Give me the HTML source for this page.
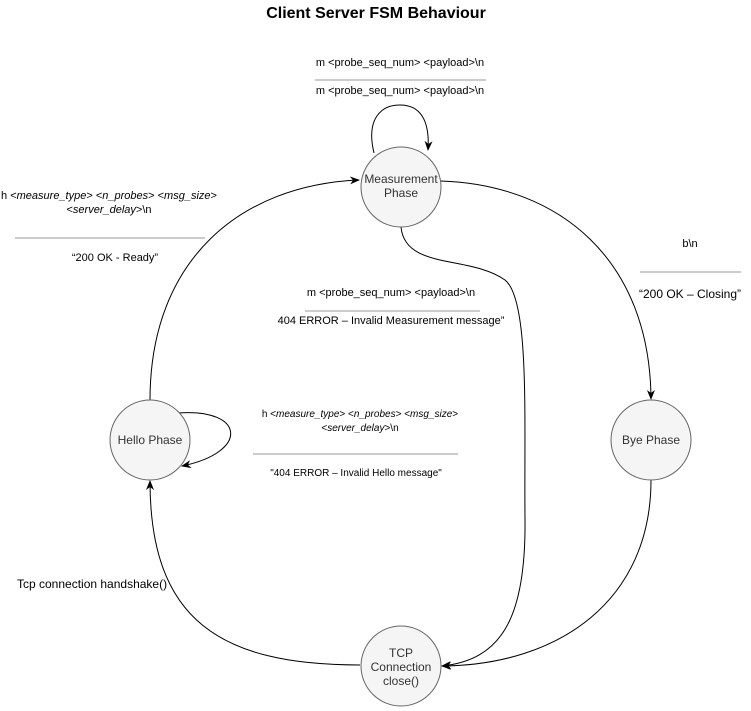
<!DOCTYPE html>
<html><head><meta charset="utf-8"><style>
html,body{margin:0;padding:0;background:#fff;}
svg{display:block;font-family:"Liberation Sans",Arial,sans-serif;}
</style></head><body>
<svg width="751" height="711" viewBox="0 0 751 711" xmlns="http://www.w3.org/2000/svg">
<defs>
<marker id="a" markerWidth="10" markerHeight="10" refX="9" refY="5" orient="auto" markerUnits="userSpaceOnUse">
<path d="M0,1 L10,5 L0,9 L3,5 Z" fill="#000"/>
</marker>
</defs>
<text x="376" y="18" font-size="16" font-weight="bold" text-anchor="middle">Client Server FSM Behaviour</text>

<g fill="none" stroke="#000" stroke-width="1">
<path d="M374,153 C366,120 380,105 400,105 C420,105 430,120 428,150" marker-end="url(#a)"/>
<path d="M150,400 C150,260 240,185 359,180" marker-end="url(#a)"/>
<path d="M441,181 C560,185 650,260 651,399" marker-end="url(#a)"/>
<path d="M401,227 C405,270 470,255 505,280 C530,300 524,420 525,520 C526,620 500,660 442,666" marker-end="url(#a)"/>
<path d="M651,480 C651,600 560,665 442,666" marker-end="url(#a)"/>
<path d="M360,665 C220,665 150,620 150,481" marker-end="url(#a)"/>
<path d="M178,413 C245,408 250,452 182,466" marker-end="url(#a)"/>
</g>

<g fill="#f5f5f5" stroke="#666" stroke-width="1">
<circle cx="401" cy="187" r="40"/>
<circle cx="150" cy="440" r="40"/>
<circle cx="651" cy="440" r="40"/>
<circle cx="401" cy="666" r="40"/>
</g>

<g font-size="12" fill="#333" text-anchor="middle">
<text x="401" y="183">Measurement</text>
<text x="401" y="197">Phase</text>
<text x="150" y="444">Hello Phase</text>
<text x="651" y="444">Bye Phase</text>
<text x="401" y="657">TCP</text>
<text x="401" y="671">Connection</text>
<text x="401" y="685">close()</text>
</g>

<g stroke="#999" stroke-width="1">
<line x1="315" y1="80" x2="486" y2="80"/>
<line x1="15" y1="238" x2="205" y2="238"/>
<line x1="640" y1="272" x2="741" y2="272"/>
<line x1="305" y1="311" x2="480" y2="311"/>
<line x1="253" y1="454" x2="458" y2="454"/>
</g>

<g font-size="11" fill="#000" text-anchor="middle">
<text x="400" y="66">m &lt;probe_seq_num&gt; &lt;payload&gt;\n</text>
<text x="400" y="94">m &lt;probe_seq_num&gt; &lt;payload&gt;\n</text>
<text x="109" y="199">h &lt;<tspan font-style="italic">measure_type</tspan>&gt; &lt;<tspan font-style="italic">n_probes</tspan>&gt; &lt;<tspan font-style="italic">msg_size</tspan>&gt;</text>
<text x="109" y="213">&lt;<tspan font-style="italic">server_delay</tspan>&gt;\n</text>
<text x="115" y="261">“200 OK - Ready”</text>
<text x="690" y="247">b\n</text>
<text x="690" y="298" font-size="12">“200 OK – Closing”</text>
<text x="391" y="296">m &lt;probe_seq_num&gt; &lt;payload&gt;\n</text>
<text x="391" y="324">404 ERROR – Invalid Measurement message”</text>
<text x="360" y="417" font-size="10">h &lt;<tspan font-style="italic">measure_type</tspan>&gt; &lt;<tspan font-style="italic">n_probes</tspan>&gt; &lt;<tspan font-style="italic">msg_size</tspan>&gt;</text>
<text x="360" y="431" font-size="10">&lt;<tspan font-style="italic">server_delay</tspan>&gt;\n</text>
<text x="356" y="476" font-size="10">"404 ERROR – Invalid Hello message"</text>
</g>
<text x="17" y="588" font-size="12" fill="#000">Tcp connection handshake()</text>
</svg>
</body></html>
